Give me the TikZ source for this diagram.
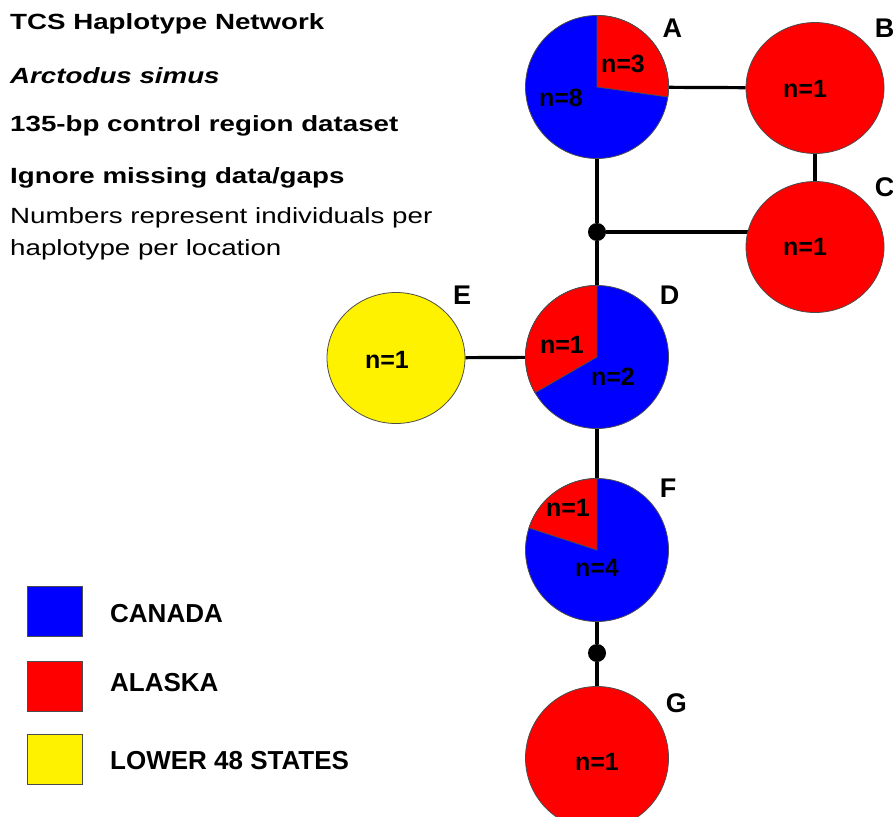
\documentclass[tikz,border=0pt]{standalone}
\usepackage{fontspec}
\setmainfont{Liberation Sans}
\newfontfamily\widesans[FakeStretch=1.26]{Liberation Sans}
\usetikzlibrary{shapes.geometric}
\tikzset{
    hap/.style={circle, fill=blue, draw=black!70, line width=.8pt,
    	minimum size=143pt, inner sep=0pt},
    hapw/.style={ellipse, fill=red, draw=black!70, line width=.8pt,
    	minimum width=138pt, minimum height=131pt, inner sep=0pt}
}
\tikzset{
    tag/.style={inner sep=0pt, font=\fontsize{27}{27}\selectfont\bfseries},
    num/.style={inner sep=0pt, font=\fontsize{25}{25}\selectfont\bfseries},
    head/.style={anchor=base west, inner sep=0pt,
    	font=\widesans\fontsize{22}{26}\selectfont\bfseries},
    note/.style={anchor=base west, inner sep=0pt,
    	font=\widesans\fontsize{22}{26}\selectfont},
    key/.style={rectangle, draw=black!70, line width=.8pt,
    	minimum width=55pt, minimum height=50pt},
    keytext/.style={anchor=west, inner sep=0pt,
    	font=\fontsize{26}{26}\selectfont\bfseries},
    dot/.style={circle, fill=black, minimum size=18pt, inner sep=0pt},
    link/.style={line width=3.2pt},
    every label/.style={label distance=10pt}
}
\newcommand{\slice}[4]{%
  \filldraw[fill=#4, draw=black!70, line width=.8pt] (#1.center)
    -- ++(#2:71.5pt) arc[start angle=#2, end angle=#3, radius=71.5pt] -- cycle;}
\pgfdeclarelayer{background}
\pgfsetlayers{background,main}

\begin{document}
\begin{tikzpicture}
  \useasboundingbox (0pt,0pt) rectangle (893pt,-816pt);

  \node (t1) [head] at (10pt,-30pt) {TCS Haplotype Network};
  \node (t2) [head] at (10pt,-83pt) {\itshape Arctodus simus};
  \node (t3) [head] at (10pt,-131pt) {135-bp control region dataset};
  \node (t4) [head] at (10pt,-183pt) {Ignore missing data/gaps};
  \node (t5) [note] at (10pt,-223pt) {Numbers represent individuals per};
  \node (t6) [note] at (10pt,-255pt) {haplotype per location};

  \node (A) [hap, label={[tag]37:A}] at (597pt,-87pt) {};
  \node (B) [hapw, label={[tag]40:B}] at (815pt,-88pt) {};
  \node (C) [hapw, label={[tag]40:C}] at (815pt,-247pt) {};
  \node (D) [hap, label={[tag]40:D}] at (597pt,-357pt) {};
  \node (E) [hapw, fill=yellow, label={[tag]43:E}] at (396pt,-358pt) {};
  \node (F) [hap, label={[tag]40:F}] at (597pt,-550pt) {};
  \node (G) [hap, fill=red, label={[tag]33:G}] at (597pt,-758pt) {};
  \node (j1) [dot] at (597pt,-232pt) {};
  \node (j2) [dot] at (597pt,-653pt) {};

  \slice{A}{90}{-8}{red}
  \slice{D}{90}{210}{red}
  \slice{F}{90}{162}{red}

  \node (nA1) [num] at (623pt,-64pt) {n=3};
  \node (nA2) [num] at (561pt,-98pt) {n=8};
  \node (nB) [num] at (805pt,-89pt) {n=1};
  \node (nC) [num] at (805pt,-247pt) {n=1};
  \node (nD1) [num] at (562pt,-345pt) {n=1};
  \node (nD2) [num] at (613pt,-377pt) {n=2};
  \node (nE) [num] at (387pt,-360pt) {n=1};
  \node (nF1) [num] at (568pt,-508pt) {n=1};
  \node (nF2) [num] at (597pt,-568pt) {n=4};
  \node (nG) [num] at (597pt,-762pt) {n=1};

  \begin{pgfonlayer}{background}
    \draw [link] (A) -- (B);
    \draw [link] (B) -- (C);
    \draw [link] (A) -- (j1);
    \draw [link] (j1) -- (j1 -| C);
    \draw [link] (j1) -- (D);
    \draw [link] (E) -- (D);
    \draw [link] (D) -- (F);
    \draw [link] (F) -- (j2);
    \draw [link] (j2) -- (G);
  \end{pgfonlayer}

  \node (k1) [key, fill=blue] at (54.5pt,-611pt) {};
  \node (k2) [key, fill=red] at (54.5pt,-686pt) {};
  \node (k3) [key, fill=yellow] at (54.5pt,-759pt) {};
  \node (k1t) [keytext] at (110pt,-614pt) {CANADA};
  \node (k2t) [keytext] at (110pt,-683pt) {ALASKA};
  \node (k3t) [keytext] at (110pt,-761pt) {LOWER 48 STATES};
\end{tikzpicture}
\end{document}
